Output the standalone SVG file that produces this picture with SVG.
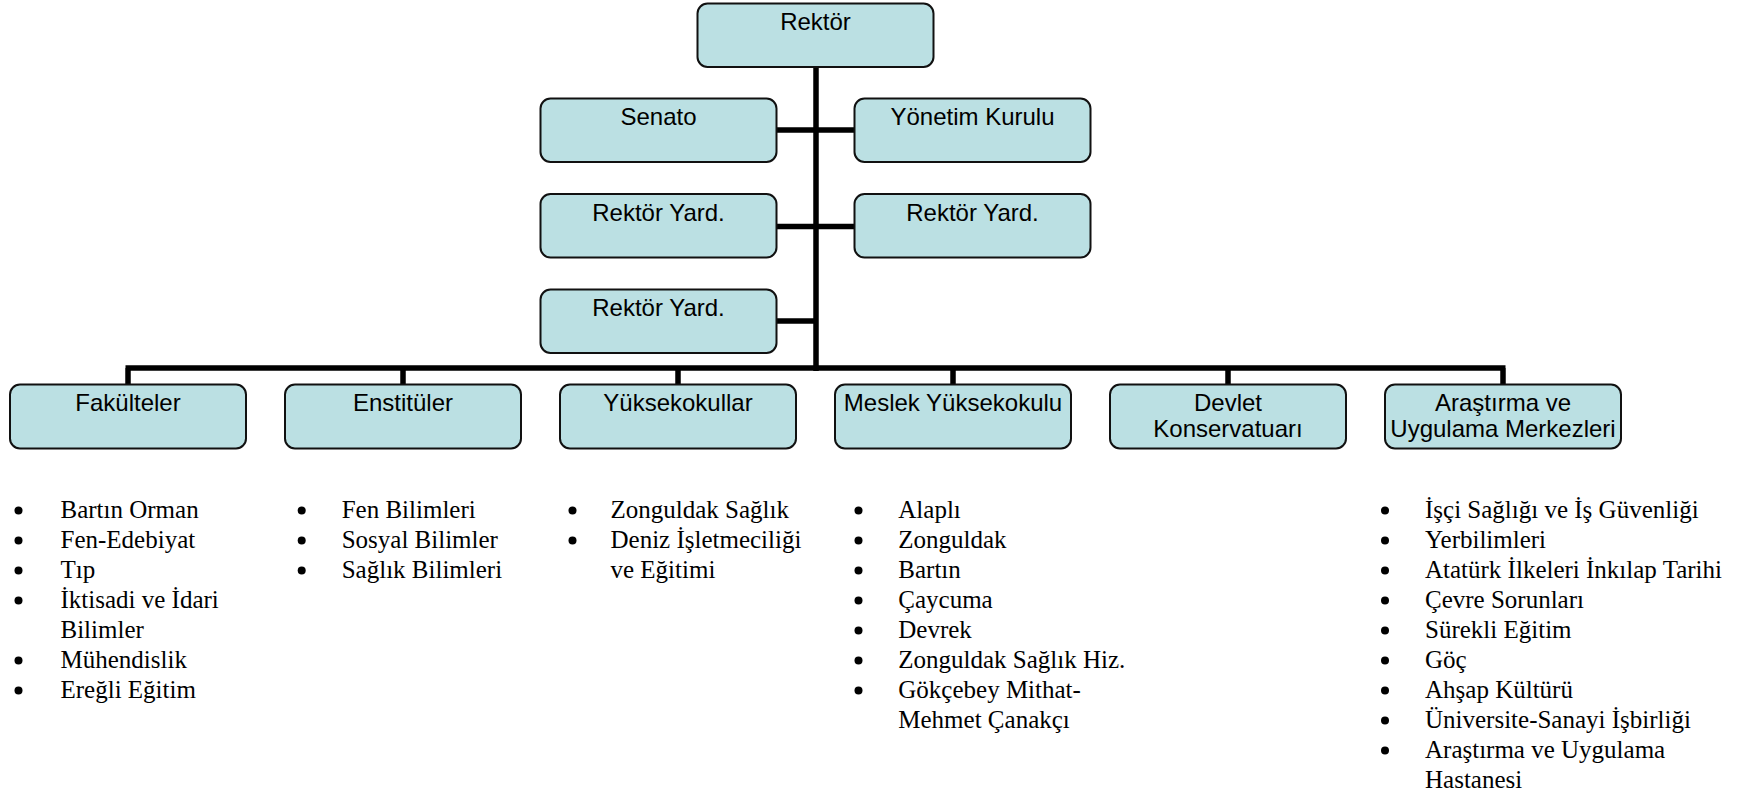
<svg xmlns="http://www.w3.org/2000/svg" width="1760" height="797" viewBox="0 0 1760 797">
<style>
.box{fill:#bbe0e3;stroke:#111;stroke-width:2}
.bt{font-family:"Liberation Sans",Arial,sans-serif;font-size:24px;fill:#000;text-anchor:middle}
.li{font-family:"Liberation Serif","Times New Roman",serif;font-size:25px;fill:#000}
.con{fill:none;stroke:#000;stroke-width:5.5}
.bul{fill:#000}
</style>
<rect width="1760" height="797" fill="#fff"/>
<g id="connectors">
<path class="con" d="M816,66 V371 M125.5,368 H1505.5 M128,368 V385 M403,368 V385 M678,368 V385 M953,368 V385 M1228,368 V385 M1503,368 V385 M776,130 H855 M776,226.5 H855 M776,321 H816"/>
</g>
<g id="rektor"><rect class="box" x="697.5" y="3.5" width="236" height="63.5" rx="10"/><text class="bt" x="815.5" y="30">Rektör</text></g>
<g id="senato"><rect class="box" x="540.5" y="98.5" width="236" height="63.5" rx="10"/><text class="bt" x="658.5" y="125">Senato</text></g>
<g id="yonetim"><rect class="box" x="854.5" y="98.5" width="236" height="63.5" rx="10"/><text class="bt" x="972.5" y="125">Yönetim Kurulu</text></g>
<g id="yard1"><rect class="box" x="540.5" y="194" width="236" height="63.5" rx="10"/><text class="bt" x="658.5" y="220.5">Rektör Yard.</text></g>
<g id="yard2"><rect class="box" x="854.5" y="194" width="236" height="63.5" rx="10"/><text class="bt" x="972.5" y="220.5">Rektör Yard.</text></g>
<g id="yard3"><rect class="box" x="540.5" y="289.5" width="236" height="63.5" rx="10"/><text class="bt" x="658.5" y="316">Rektör Yard.</text></g>
<g id="fakulteler"><rect class="box" x="10" y="384.5" width="236" height="64" rx="10"/><text class="bt" x="128" y="411">Fakülteler</text></g>
<g id="enstituler"><rect class="box" x="285" y="384.5" width="236" height="64" rx="10"/><text class="bt" x="403" y="411">Enstitüler</text></g>
<g id="yuksekokullar"><rect class="box" x="560" y="384.5" width="236" height="64" rx="10"/><text class="bt" x="678" y="411">Yüksekokullar</text></g>
<g id="meslek"><rect class="box" x="835" y="384.5" width="236" height="64" rx="10"/><text class="bt" x="953" y="411">Meslek Yüksekokulu</text></g>
<g id="devlet"><rect class="box" x="1110" y="384.5" width="236" height="64" rx="10"/><text class="bt" x="1228" y="411">Devlet</text><text class="bt" x="1228" y="437">Konservatuarı</text></g>
<g id="arastirma"><rect class="box" x="1385" y="384.5" width="236" height="64" rx="10"/><text class="bt" x="1503" y="411">Araştırma ve</text><text class="bt" x="1503" y="437">Uygulama Merkezleri</text></g>
<g id="list-fakulteler">
<circle class="bul" cx="18.5" cy="510.5" r="4"/><text class="li" x="60.5" y="517.5">Bartın Orman</text>
<circle class="bul" cx="18.5" cy="540.5" r="4"/><text class="li" x="60.5" y="547.5">Fen-Edebiyat</text>
<circle class="bul" cx="18.5" cy="570.5" r="4"/><text class="li" x="60.5" y="577.5">Tıp</text>
<circle class="bul" cx="18.5" cy="600.5" r="4"/><text class="li" x="60.5" y="607.5">İktisadi ve İdari</text>
<text class="li" x="60.5" y="637.5">Bilimler</text>
<circle class="bul" cx="18.5" cy="660.5" r="4"/><text class="li" x="60.5" y="667.5">Mühendislik</text>
<circle class="bul" cx="18.5" cy="690.5" r="4"/><text class="li" x="60.5" y="697.5">Ereğli Eğitim</text>
</g>
<g id="list-enstituler">
<circle class="bul" cx="301.7" cy="510.5" r="4"/><text class="li" x="341.7" y="517.5">Fen Bilimleri</text>
<circle class="bul" cx="301.7" cy="540.5" r="4"/><text class="li" x="341.7" y="547.5">Sosyal Bilimler</text>
<circle class="bul" cx="301.7" cy="570.5" r="4"/><text class="li" x="341.7" y="577.5">Sağlık Bilimleri</text>
</g>
<g id="list-yuksekokullar">
<circle class="bul" cx="572.5" cy="510.5" r="4"/><text class="li" x="610.5" y="517.5">Zonguldak Sağlık</text>
<circle class="bul" cx="572.5" cy="540.5" r="4"/><text class="li" x="610.5" y="547.5">Deniz İşletmeciliği</text>
<text class="li" x="610.5" y="577.5">ve Eğitimi</text>
</g>
<g id="list-meslek">
<circle class="bul" cx="858.5" cy="510.5" r="4"/><text class="li" x="898.3" y="517.5">Alaplı</text>
<circle class="bul" cx="858.5" cy="540.5" r="4"/><text class="li" x="898.3" y="547.5">Zonguldak</text>
<circle class="bul" cx="858.5" cy="570.5" r="4"/><text class="li" x="898.3" y="577.5">Bartın</text>
<circle class="bul" cx="858.5" cy="600.5" r="4"/><text class="li" x="898.3" y="607.5">Çaycuma</text>
<circle class="bul" cx="858.5" cy="630.5" r="4"/><text class="li" x="898.3" y="637.5">Devrek</text>
<circle class="bul" cx="858.5" cy="660.5" r="4"/><text class="li" x="898.3" y="667.5">Zonguldak Sağlık Hiz.</text>
<circle class="bul" cx="858.5" cy="690.5" r="4"/><text class="li" x="898.3" y="697.5">Gökçebey Mithat-</text>
<text class="li" x="898.3" y="727.5">Mehmet Çanakçı</text>
</g>
<g id="list-arastirma">
<circle class="bul" cx="1385" cy="510.5" r="4"/><text class="li" x="1425" y="517.5">İşçi Sağlığı ve İş Güvenliği</text>
<circle class="bul" cx="1385" cy="540.5" r="4"/><text class="li" x="1425" y="547.5">Yerbilimleri</text>
<circle class="bul" cx="1385" cy="570.5" r="4"/><text class="li" x="1425" y="577.5">Atatürk İlkeleri İnkılap Tarihi</text>
<circle class="bul" cx="1385" cy="600.5" r="4"/><text class="li" x="1425" y="607.5">Çevre Sorunları</text>
<circle class="bul" cx="1385" cy="630.5" r="4"/><text class="li" x="1425" y="637.5">Sürekli Eğitim</text>
<circle class="bul" cx="1385" cy="660.5" r="4"/><text class="li" x="1425" y="667.5">Göç</text>
<circle class="bul" cx="1385" cy="690.5" r="4"/><text class="li" x="1425" y="697.5">Ahşap Kültürü</text>
<circle class="bul" cx="1385" cy="720.5" r="4"/><text class="li" x="1425" y="727.5">Üniversite-Sanayi İşbirliği</text>
<circle class="bul" cx="1385" cy="750.5" r="4"/><text class="li" x="1425" y="757.5">Araştırma ve Uygulama</text>
<text class="li" x="1425" y="787.5">Hastanesi</text>
</g>
</svg>
